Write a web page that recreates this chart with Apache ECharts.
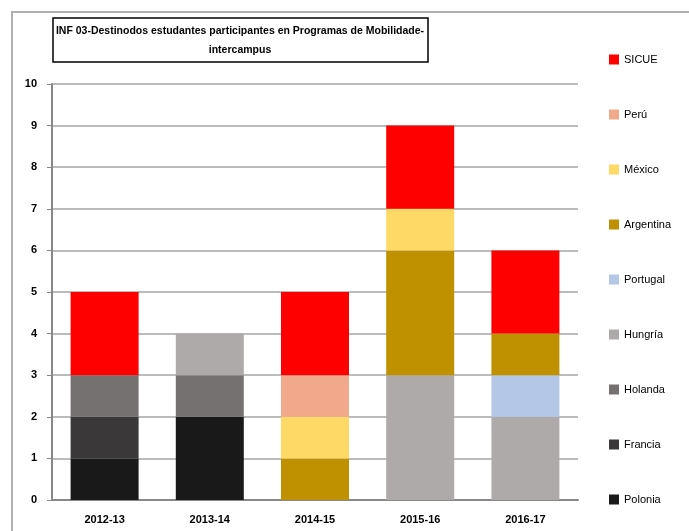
<!DOCTYPE html>
<html>
<head>
<meta charset="utf-8">
<script src="https://cdn.jsdelivr.net/npm/echarts@6/dist/echarts.min.js"></script>
<style>
  html, body { margin: 0; padding: 0; background: #fff; }
  #main { width: 689px; height: 531px; }
</style>
</head>
<body>
<div id="main"></div>
<script>
// datos
var categorias = ['2012-13', '2013-14', '2014-15', '2015-16', '2016-17'];
var polonia   = [1, 2, 0, 0, 0];
var francia   = [1, 0, 0, 0, 0];
var holanda   = [1, 1, 0, 0, 0];
var hungria   = [0, 1, 0, 3, 2];
var portugal  = [0, 0, 0, 0, 1];
var argentina = [0, 0, 1, 3, 1];
var mexico    = [0, 0, 1, 1, 0];
var peru      = [0, 0, 1, 0, 0];
var sicue     = [2, 0, 2, 2, 2];
var ticksY = [0, 1, 2, 3, 4, 5, 6, 7, 8, 9, 10];

var myChart = echarts.init(document.getElementById('main'));

var series = [
    ['Polonia', polonia, '#191919'],
    ['Francia', francia, '#3a3838'],
    ['Holanda', holanda, '#767171'],
    ['Hungría', hungria, '#aeaaaa'],
    ['Portugal', portugal, '#b4c7e7'],
    ['Argentina', argentina, '#bf9000'],
    ['México', mexico, '#ffd966'],
    ['Perú', peru, '#f1a88b'],
    ['SICUE', sicue, '#ff0000']
].map(function (s) {
    return {
        name: s[0],
        type: 'bar',
        stack: 'total',
        barWidth: 68,
        itemStyle: { color: s[2] },
        data: s[1].map(function (v) { return v === 0 ? null : v; })
    };
});

var option = {
    animation: false,
    textStyle: { fontFamily: 'Liberation Sans' },
    graphic: [
        // marco exterior
        {
            type: 'rect',
            shape: { x: 12, y: 12, width: 700, height: 540 },
            style: { fill: null, stroke: '#b0b0b0', lineWidth: 2 }
        },
        // caja del título
        {
            type: 'rect',
            shape: { x: 53, y: 18, width: 375, height: 44 },
            style: { fill: '#fff', stroke: '#000', lineWidth: 1.5 }
        },
        {
            type: 'text',
            x: 240, y: 41,
            style: {
                text: 'INF 03-Destinodos estudantes participantes en Programas de Mobilidade-\nintercampus',
                fill: '#000',
                font: 'bold 10.5px "Liberation Sans"',
                align: 'center',
                verticalAlign: 'middle',
                lineHeight: 19
            }
        }
    ],
    legend: {
        orient: 'vertical',
        left: 604,
        top: 49,
        itemGap: 44,
        itemWidth: 10,
        itemHeight: 10,
        icon: 'rect',
        textStyle: { fontSize: 11, color: '#000', fontFamily: 'Liberation Sans' },
        data: series.map(function (s) { return s.name; }).reverse()
    },
    grid: { left: 52, right: 111, top: 84, bottom: 31 },
    xAxis: {
        type: 'category',
        data: categorias,
        axisLine: { lineStyle: { color: '#888', width: 2 } },
        axisTick: { show: false },
        axisLabel: { color: '#000', fontSize: 11, fontWeight: 'bold', margin: 14 }
    },
    yAxis: {
        type: 'value',
        min: 0,
        max: 10,
        interval: 1,
        axisLine: { show: true, lineStyle: { color: '#888', width: 2 } },
        axisTick: { show: true, length: 5, lineStyle: { color: '#888' } },
        splitLine: { lineStyle: { color: '#a6a6a6', width: 1.5 } },
        axisLabel: {
            color: '#000', fontSize: 11, fontWeight: 'bold', margin: 15,
            formatter: function (v) { return ticksY.indexOf(v) >= 0 ? String(v) : ''; }
        }
    },
    series: series
};

myChart.setOption(option);
</script>
</body>
</html>
